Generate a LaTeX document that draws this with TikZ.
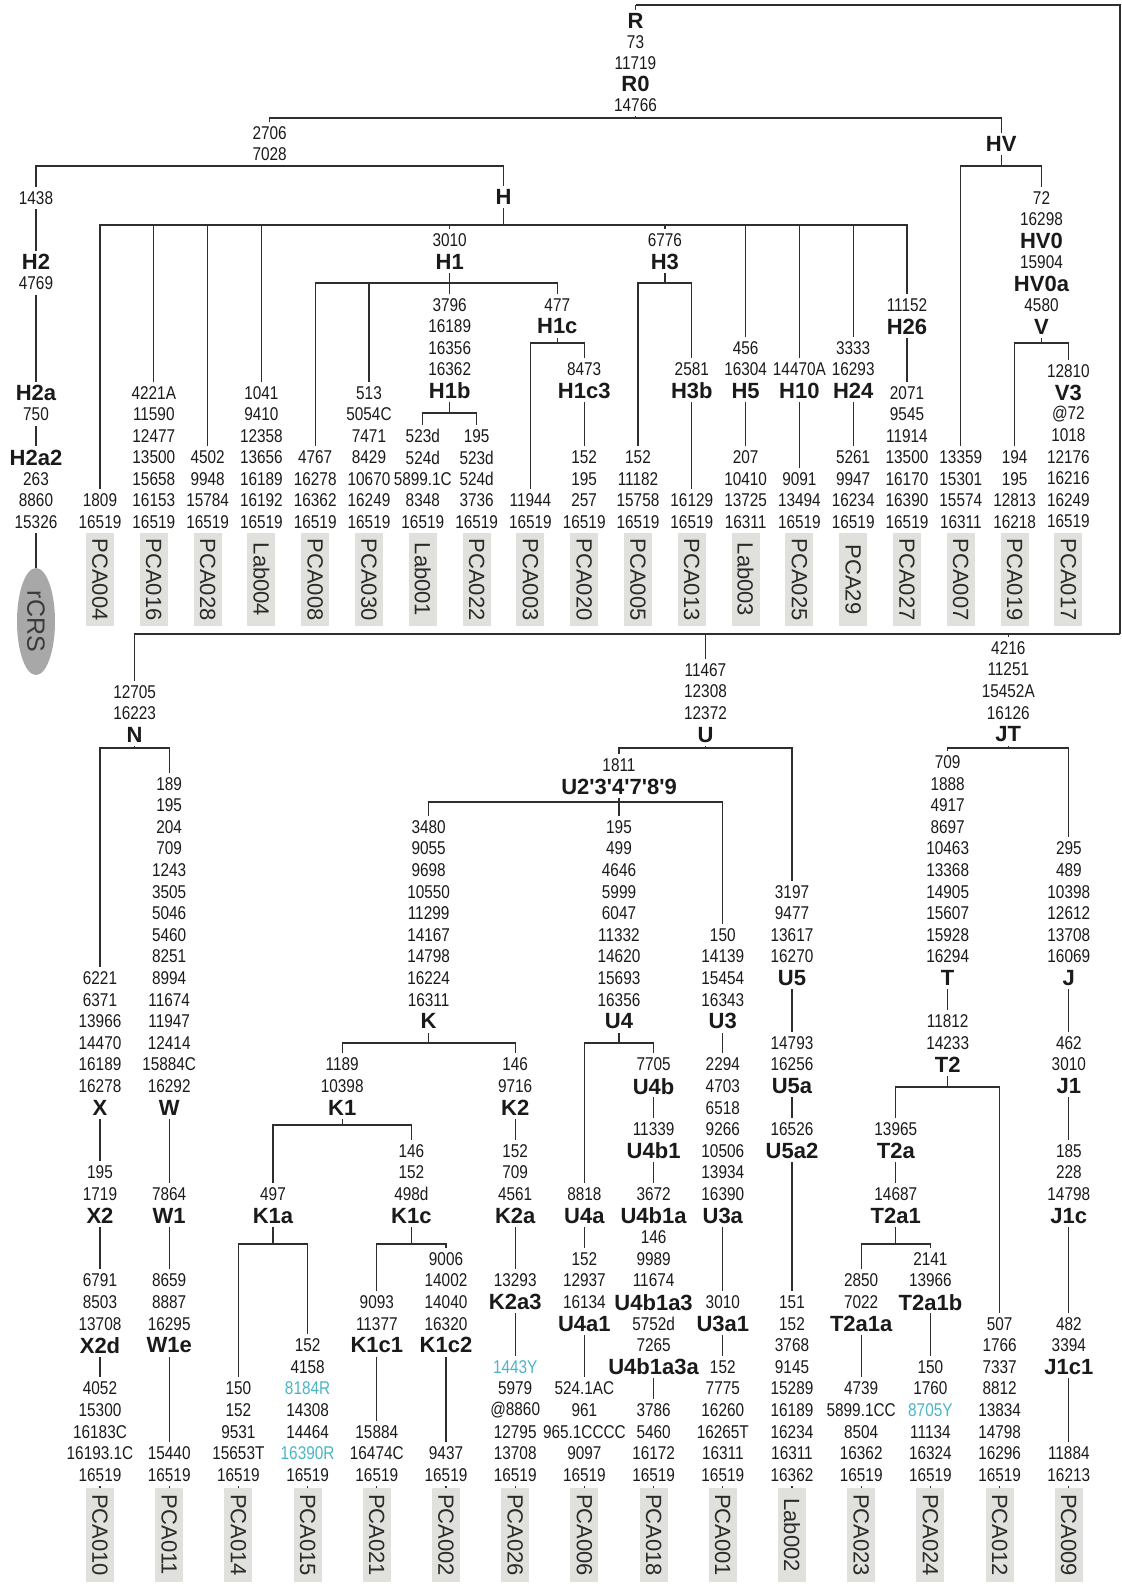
\documentclass[tikz,border=0pt]{standalone}
\usepackage{fontspec}
\setmainfont{Liberation Sans}
\newfontfamily\numfam{Liberation Sans}[FakeStretch=0.83]
\newfontfamily\labfam{Liberation Sans}
\usetikzlibrary{shapes.geometric}
\definecolor{ink}{HTML}{1A1A1A}
\definecolor{linec}{HTML}{2E2E2E}
\definecolor{boxg}{HTML}{E0E0DC}
\definecolor{boxt}{HTML}{2A2A2A}
\definecolor{ellg}{HTML}{A8A8A8}
\definecolor{ellt}{HTML}{3A3A3A}
\definecolor{cyanish}{HTML}{4BB5C6}
\newcommand\Lb[1]{{\labfam\bfseries\fontsize{22}{24}\selectfont #1}}
\newcommand\Cy[1]{{\color{cyanish}#1}}
\def\dy{21.5}
\newcommand\stk[4]{\foreach \lbl [count=\ii] in {#4}{\node[row] (#1-\ii) at (#2,{#3+\dy*(\ii-1)}) {\lbl};}}
\tikzset{
  row/.style={fill=white, inner sep=0pt, minimum height=22.4, text=ink, font=\numfam\fontsize{18.5}{20}\selectfont},
  leaf/.style={fill=boxg, inner sep=0pt, minimum width=28, minimum height=93, text=boxt, font=\labfam\fontsize{22}{24}\selectfont},
  ell/.style={ellipse, fill=ellg, inner sep=0pt, minimum width=38, minimum height=107, text=ellt, font=\labfam\fontsize{25}{27}\selectfont},
  conn/.style={draw=linec, line width=1.2pt}
}
\begin{document}
\begin{tikzpicture}[x=1pt,y=-1pt]
\fill[white] (0,0) rectangle (1122,1588);
\useasboundingbox (0,0) rectangle (1122,1588);

% leaves
\foreach \nm [count=\ii from 0] in {PCA004,PCA016,PCA028,Lab004,PCA008,PCA030,Lab001,PCA022,PCA003,PCA020,PCA005,PCA013,Lab003,PCA025,PCA29,PCA027,PCA007,PCA019,PCA017}
  {\node[leaf] (l\nm) at ({100+53.8*\ii},579.5) {\rotatebox{-90}{\nm}};}
\foreach \nm [count=\ii from 0] in {PCA010,PCA011,PCA014,PCA015,PCA021,PCA002,PCA026,PCA006,PCA018,PCA001,Lab002,PCA023,PCA024,PCA012,PCA009}
  {\node[leaf, minimum height=94] (l\nm) at ({100+69.2*\ii},1535) {\rotatebox{-90}{\nm}};}
\node[ell] (rCRS) at (36,621.5) {\rotatebox{-90}{rCRS}};

% junctions
\coordinate (jR) at (635.5,5);
\coordinate (jRB) at (1120,634);
\coordinate (jR0) at (635.5,118);
\coordinate (jL) at (269.7,166);
\coordinate (jHV) at (1001.2,166);
\coordinate (jH) at (503.5,225);
\coordinate (jH1) at (449.7,283);
\coordinate (jH1b) at (449.7,413);
\coordinate (jH1c) at (557.3,343);
\coordinate (jH3) at (664.9,283);
\coordinate (jV) at (1041.5,343);
\coordinate (jN) at (134.6,748);
\coordinate (jU) at (705.5,748);
\coordinate (jJT) at (1008.3,748);
\coordinate (jU2) at (619,802);
\coordinate (jK) at (428.6,1043);
\coordinate (jU4) at (619,1043);
\coordinate (jK1) at (342.2,1125);
\coordinate (jK1a) at (273,1244);
\coordinate (jK1c) at (411.4,1244);
\coordinate (jT2) at (947.7,1087);
\coordinate (jT2a1) at (895.8,1244);

% connectors, top tree
\draw[conn] (jR0) -- (jR);
\draw[conn] (jRB) |- (jR);
\draw[conn] (jL) |- (jR0);
\draw[conn] (jHV) |- (jR0);
\draw[conn] (rCRS.north) |- (jL);
\draw[conn] (jH) |- (jL);
\foreach \nm in {PCA004,PCA016,PCA028,Lab004,Lab003,PCA025,PCA29,PCA027}
  {\draw[conn] (l\nm.north) |- (jH);}
\draw[conn] (jH1) |- (jH);
\draw[conn] (jH3) |- (jH);
\draw[conn] (lPCA008.north) |- (jH1);
\draw[conn] (lPCA030.north) |- (jH1);
\draw[conn] (jH1b) -- (jH1);
\draw[conn] (jH1c) |- (jH1);
\draw[conn] (lLab001.north) |- (jH1b);
\draw[conn] (lPCA022.north) |- (jH1b);
\draw[conn] (lPCA003.north) |- (jH1c);
\draw[conn] (lPCA020.north) |- (jH1c);
\draw[conn] (lPCA005.north) |- (jH3);
\draw[conn] (lPCA013.north) |- (jH3);
\draw[conn] (lPCA007.north) |- (jHV);
\draw[conn] (jV) |- (jHV);
\draw[conn] (lPCA019.north) |- (jV);
\draw[conn] (lPCA017.north) |- (jV);

% connectors, bottom tree
\draw[conn] (jN) |- (jRB);
\draw[conn] (jU) |- (jRB);
\draw[conn] (jJT) |- (jRB);
\draw[conn] (lPCA010.north) |- (jN);
\draw[conn] (lPCA011.north) |- (jN);
\draw[conn] (jU2) |- (jU);
\draw[conn] (lLab002.north) |- (jU);
\draw[conn] (jK) |- (jU2);
\draw[conn] (jU4) |- (jU2);
\draw[conn] (lPCA001.north) |- (jU2);
\draw[conn] (jK1) |- (jK);
\draw[conn] (lPCA026.north) |- (jK);
\draw[conn] (jK1a) |- (jK1);
\draw[conn] (jK1c) |- (jK1);
\draw[conn] (lPCA014.north) |- (jK1a);
\draw[conn] (lPCA015.north) |- (jK1a);
\draw[conn] (lPCA021.north) |- (jK1c);
\draw[conn] (lPCA002.north) |- (jK1c);
\draw[conn] (lPCA006.north) |- (jU4);
\draw[conn] (lPCA018.north) |- (jU4);
\draw[conn] (jT2) |- (jJT);
\draw[conn] (lPCA009.north) |- (jJT);
\draw[conn] (jT2a1) |- (jT2);
\draw[conn] (lPCA012.north) |- (jT2);
\draw[conn] (lPCA023.north) |- (jT2a1);
\draw[conn] (lPCA024.north) |- (jT2a1);

% labels, top tree
\def\dy{21}
\stk{sR}{635.5}{21}{\Lb{R},73,11719,\Lb{R0},14766}
\stk{sL}{269.7}{133}{2706,7028}
\def\dy{21.5}
\stk{sH}{503.5}{197}{\Lb{H}}
\stk{sHV}{1001.2}{144}{\Lb{HV}}
\stk{sH2a}{36}{198}{1438}
\stk{sH2b}{36}{262}{\Lb{H2},4769}
\stk{sH2c}{36}{393}{\Lb{H2a},750}
\stk{sH2d}{36}{457.5}{\Lb{H2a2},263,8860,15326}
\stk{s004}{100}{500.5}{1809,16519}
\stk{s016}{153.8}{393}{4221A,11590,12477,13500,15658,16153,16519}
\stk{s028}{207.6}{457.5}{4502,9948,15784,16519}
\stk{sL04}{261.4}{393}{1041,9410,12358,13656,16189,16192,16519}
\stk{sH1}{449.7}{240}{3010,\Lb{H1}}
\stk{s008}{315.2}{457.5}{4767,16278,16362,16519}
\stk{s030}{369}{393}{513,5054C,7471,8429,10670,16249,16519}
\stk{sH1b}{449.7}{305}{3796,16189,16356,16362,\Lb{H1b}}
\stk{sL01}{422.8}{436}{523d,524d,5899.1C,8348,16519}
\stk{s022}{476.6}{436}{195,523d,524d,3736,16519}
\stk{sH1c}{557.3}{305}{477,\Lb{H1c}}
\stk{s003}{530.4}{500.5}{11944,16519}
\stk{sH1c3}{584.2}{369.5}{8473,\Lb{H1c3}}
\stk{s020}{584.2}{457.5}{152,195,257,16519}
\stk{sH3}{664.9}{240}{6776,\Lb{H3}}
\stk{s005}{638}{457.5}{152,11182,15758,16519}
\stk{sH3b}{691.8}{369.5}{2581,\Lb{H3b}}
\stk{s013}{691.8}{500.5}{16129,16519}
\stk{sH5}{745.6}{348}{456,16304,\Lb{H5}}
\stk{sL03}{745.6}{457.5}{207,10410,13725,16311}
\stk{sH10}{799.4}{369.5}{14470A,\Lb{H10}}
\stk{s025}{799.4}{479}{9091,13494,16519}
\stk{sH24}{853.2}{348}{3333,16293,\Lb{H24}}
\stk{s29}{853.2}{457.5}{5261,9947,16234,16519}
\stk{sH26}{907}{305}{11152,\Lb{H26}}
\stk{s027}{907}{393}{2071,9545,11914,13500,16170,16390,16519}
\stk{s007}{960.8}{457.5}{13359,15301,15574,16311}
\stk{sHV0}{1041.5}{198}{72,16298,\Lb{HV0},15904,\Lb{HV0a},4580,\Lb{V}}
\stk{s019}{1014.6}{457.5}{194,195,12813,16218}
\stk{s017}{1068.4}{371}{12810,\Lb{V3},@72,1018,12176,16216,16249,16519}

% labels, bottom tree
\def\dy{21.6}
\stk{sN}{134.6}{692}{12705,16223,\Lb{N}}
\stk{sU}{705.5}{670}{11467,12308,12372,\Lb{U}}
\stk{sJT}{1008.3}{648}{4216,11251,15452A,16126,\Lb{JT}}
\stk{sX}{100}{978.2}{6221,6371,13966,14470,16189,16278,\Lb{X}}
\stk{sX2}{100}{1172.6}{195,1719,\Lb{X2}}
\stk{sX2d}{100}{1280.6}{6791,8503,13708,\Lb{X2d}}
\stk{s010}{100}{1388.6}{4052,15300,16183C,16193.1C,16519}
\stk{sW}{169.2}{783.8}{189,195,204,709,1243,3505,5046,5460,8251,8994,11674,11947,12414,15884C,16292,\Lb{W}}
\stk{sW1}{169.2}{1194.2}{7864,\Lb{W1}}
\stk{sW1e}{169.2}{1280.6}{8659,8887,16295,\Lb{W1e}}
\stk{s011}{169.2}{1453.4}{15440,16519}
\stk{sU2}{619}{765}{1811,\Lb{U2\textquotesingle 3\textquotesingle 4\textquotesingle 7\textquotesingle 8\textquotesingle 9}}
\stk{sK}{428.6}{827}{3480,9055,9698,10550,11299,14167,14798,16224,16311,\Lb{K}}
\stk{sK1}{342.2}{1064.6}{1189,10398,\Lb{K1}}
\stk{sK1a}{273}{1194.2}{497,\Lb{K1a}}
\stk{s014}{238.4}{1388.6}{150,152,9531,15653T,16519}
\stk{s015}{307.6}{1345.4}{152,4158,\Cy{8184R},14308,14464,\Cy{16390R},16519}
\stk{sK1c}{411.4}{1151}{146,152,498d,\Lb{K1c}}
\stk{sK1c1}{376.8}{1302.2}{9093,11377,\Lb{K1c1}}
\stk{s021}{376.8}{1431.8}{15884,16474C,16519}
\stk{sK1c2}{446}{1259}{9006,14002,14040,16320,\Lb{K1c2}}
\stk{s002}{446}{1453.4}{9437,16519}
\stk{sK2}{515.2}{1064.6}{146,9716,\Lb{K2}}
\stk{sK2a}{515.2}{1151}{152,709,4561,\Lb{K2a}}
\stk{sK2a3}{515.2}{1280.6}{13293,\Lb{K2a3}}
\stk{s026}{515.2}{1367}{\Cy{1443Y},5979,@8860,12795,13708,16519}
\stk{sU4}{619}{827}{195,499,4646,5999,6047,11332,14620,15693,16356,\Lb{U4}}
\stk{sU4a}{584.4}{1194.2}{8818,\Lb{U4a}}
\stk{sU4a1}{584.4}{1259}{152,12937,16134,\Lb{U4a1}}
\stk{s006}{584.4}{1388.6}{524.1AC,961,965.1CCCC,9097,16519}
\stk{sU4b}{653.6}{1064.6}{7705,\Lb{U4b}}
\stk{sU4b1}{653.6}{1129.4}{11339,\Lb{U4b1}}
\stk{sU4b1a}{653.6}{1194.2}{3672,\Lb{U4b1a},146,9989,11674,\Lb{U4b1a3},5752d,7265,\Lb{U4b1a3a}}
\stk{s018}{653.6}{1410.2}{3786,5460,16172,16519}
\stk{sU3}{722.8}{935}{150,14139,15454,16343,\Lb{U3}}
\stk{sU3a}{722.8}{1064.6}{2294,4703,6518,9266,10506,13934,16390,\Lb{U3a}}
\stk{sU3a1}{722.8}{1302.2}{3010,\Lb{U3a1}}
\stk{s001}{722.8}{1367}{152,7775,16260,16265T,16311,16519}
\stk{sU5}{792}{891.8}{3197,9477,13617,16270,\Lb{U5}}
\stk{sU5a}{792}{1043}{14793,16256,\Lb{U5a}}
\stk{sU5a2}{792}{1129.4}{16526,\Lb{U5a2}}
\stk{sL02}{792}{1302.2}{151,152,3768,9145,15289,16189,16234,16311,16362}
\stk{sT}{947.7}{762.2}{709,1888,4917,8697,10463,13368,14905,15607,15928,16294,\Lb{T}}
\stk{sT2}{947.7}{1021.4}{11812,14233,\Lb{T2}}
\stk{sT2a}{895.8}{1129.4}{13965,\Lb{T2a}}
\stk{sT2a1}{895.8}{1194.2}{14687,\Lb{T2a1}}
\stk{sT2a1a}{861.2}{1280.6}{2850,7022,\Lb{T2a1a}}
\stk{s023}{861.2}{1388.6}{4739,5899.1CC,8504,16362,16519}
\stk{sT2a1b}{930.4}{1259}{2141,13966,\Lb{T2a1b}}
\stk{s024}{930.4}{1367}{150,1760,\Cy{8705Y},11134,16324,16519}
\stk{s012}{999.6}{1323.8}{507,1766,7337,8812,13834,14798,16296,16519}
\stk{sJ}{1068.8}{848.6}{295,489,10398,12612,13708,16069,\Lb{J}}
\stk{sJ1}{1068.8}{1043}{462,3010,\Lb{J1}}
\stk{sJ1c}{1068.8}{1151}{185,228,14798,\Lb{J1c}}
\stk{sJ1c1}{1068.8}{1323.8}{482,3394,\Lb{J1c1}}
\stk{s009}{1068.8}{1453.4}{11884,16213}
\end{tikzpicture}
\end{document}
